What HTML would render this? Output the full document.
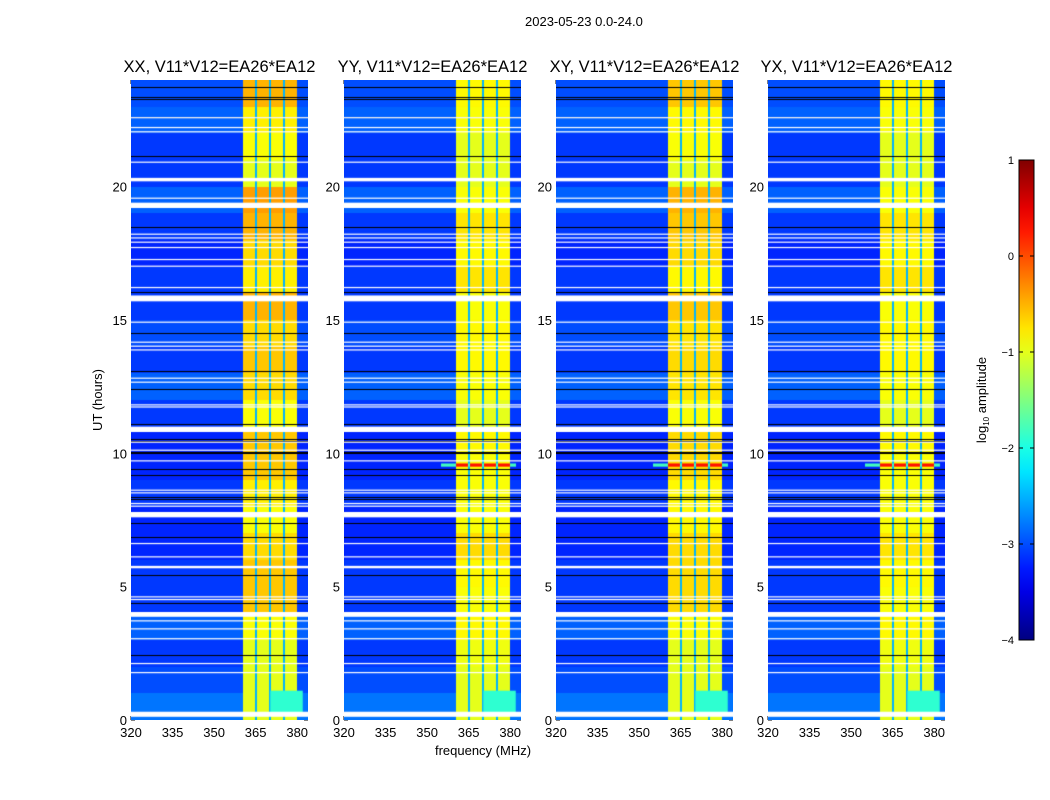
<!DOCTYPE html>
<html><head><meta charset="utf-8">
<style>
body{margin:0;background:#fff;font-family:"Liberation Sans","DejaVu Sans",sans-serif;}
#root{position:relative;width:1050px;height:800px;overflow:hidden;background:#fff;}
.t{position:absolute;white-space:nowrap;color:#000;}
canvas{position:absolute;}
svg{position:absolute;left:0;top:0;}
</style></head>
<body>
<div id="root">
<div class="t" style="left:525px;top:14px;font-size:13px;">2023-05-23 0.0-24.0</div>
<svg id="ov" width="1050" height="800"></svg>
</div>
<script>
// ---- data ----
const panelTitles = ["XX, V11*V12=EA26*EA12","YY, V11*V12=EA26*EA12","XY, V11*V12=EA26*EA12","YX, V11*V12=EA26*EA12"];
const xTicks = [320,335,350,365,380];
const yTicks = [0,5,10,15,20];
const cbTicks = [1,0,-1,-2,-3,-4];
// hourly background log10 amplitude (bins 0..23)
const bgLevel = [-2.8,-3.0,-3.1,-2.9,-3.1,-3.1,-3.2,-3.2,-3.1,-3.2,-3.2,-3.1,-2.9,-3.1,-3.0,-3.1,-3.1,-3.2,-3.1,-2.9,-3.1,-3.1,-2.9,-3.0];
// hourly band (360-380 MHz) level per polarisation
const bandXX = [-1.0,-1.0,-1.0,-0.9,-0.6,-0.6,-0.7,-0.9,-0.8,-0.6,-0.6,-0.9,-0.7,-0.6,-0.7,-0.5,-0.8,-0.7,-0.5,-0.4,-1.0,-0.9,-0.8,-0.5];
const bandYY = [-1.0,-1.0,-0.95,-0.85,-0.9,-0.85,-0.7,-0.9,-0.9,-0.9,-0.85,-1.0,-0.9,-0.85,-0.85,-0.9,-0.75,-0.85,-0.75,-0.9,-1.0,-1.0,-0.9,-0.85];
const bandXY = [-1.0,-1.0,-1.0,-0.9,-0.7,-0.7,-0.7,-0.85,-0.85,-0.7,-0.7,-0.9,-0.75,-0.7,-0.75,-0.6,-0.85,-0.7,-0.6,-0.5,-1.0,-0.9,-0.85,-0.6];
const bandYX = [-1.0,-1.0,-0.95,-0.85,-0.9,-0.85,-0.75,-0.9,-0.9,-0.9,-0.85,-1.0,-0.9,-0.85,-0.85,-0.9,-0.75,-0.85,-0.75,-0.9,-1.0,-1.0,-0.9,-0.85];
// band sub-sections [fStart,fEnd] MHz
const bandSections = [[360.3,364.8],[365.5,369.9],[370.6,374.9],[375.6,379.8]];
// flagged (white) time ranges [start,end] hours
const whiteGaps = [[20.2,20.33],[19.2,19.4],[15.7,15.92],[10.8,11.0],[7.6,7.8],[5.69,5.78],[3.87,4.05],[0.12,0.31],
 [22.57,22.61],[22.2,22.24],[22.04,22.08],[20.9,20.94],[19.55,19.59],[18.2,18.24],[18.06,18.1],[17.9,17.94],[17.7,17.74],
 [17.25,17.29],[17.0,17.04],[16.2,16.24],[14.9,14.94],[14.15,14.19],[14.0,14.04],[13.86,13.9],[12.8,12.84],[12.65,12.69],
 [11.8,11.84],[11.72,11.76],[10.4,10.44],[10.1,10.14],[9.7,9.74],[8.6,8.64],[8.5,8.54],[8.1,8.14],[8.0,8.04],[6.6,6.64],
 [6.1,6.14],[4.6,4.64],[4.5,4.54],[3.7,3.74],[3.4,3.44],[3.03,3.07],[2.1,2.14],[1.76,1.8]];
// dark (zero) rows, hours
const blackLines = [23.75,23.35,23.3,22.6,21.15,18.5,16.05,14.5,13.1,12.4,11.1,10.52,10.45,10.05,10.0,9.4,9.2,8.35,8.28,7.4,6.85,5.45,4.4,2.45];
// red row hours (present in YY, XY, YX)
const redRow = [9.5,9.62];
const redPanels = [false,true,true,true];
// lighter low-freq patch near start [t0,t1,f0,f1,level]
const patch = [0.3,1.1,370.3,382,-1.9];

const bands = [bandXX,bandYY,bandXY,bandYX];
// ---- layout ----
const panelLeft=[131,344,556,768], PW=177, PT=80, PH=640;
const fMin=320, fMax=320+177/2.77, tMax=24;
function fx(f,i){return panelLeft[i]+(f-fMin)/(fMax-fMin)*PW;}
function ty(t){return PT+PH-(t/tMax)*PH;}
function jet(v){let t=(v+4)/5;t=Math.max(0,Math.min(1,t));
 const c=x=>Math.round(255*Math.max(0,Math.min(1,x)));
 return `rgb(${c(1.5-Math.abs(4*t-3))},${c(1.5-Math.abs(4*t-2))},${c(1.5-Math.abs(4*t-1))})`;}
const root=document.getElementById('root');
const ov=document.getElementById('ov');
const NS='http://www.w3.org/2000/svg';
function sv(tag,a){const e=document.createElementNS(NS,tag);for(const k in a)e.setAttribute(k,a[k]);ov.appendChild(e);return e;}
function inBand(f){for(const s of bandSections)if(f>=s[0]&&f<=s[1])return 1;return (f>=bandSections[0][0]&&f<=bandSections[3][1])?2:0;}

for(let i=0;i<4;i++){
 const cv=document.createElement('canvas');
 cv.width=PW;cv.height=PH;cv.style.left=panelLeft[i]+'px';cv.style.top=PT+'px';
 
 
 root.appendChild(cv);
 const g=cv.getContext('2d');
 const L=panelLeft[i];
 for(let h=0;h<24;h++){
  const y0=Math.round(ty(h+1)-PT),y1=Math.round(ty(h)-PT);
  for(let px=0;px<PW;px++){
   const f=fMin+(px+0.5)/PW*(fMax-fMin);
   const b=inBand(f);
   let v=b===1?bands[i][h]:(b===2?-2.5:bgLevel[h]);
   g.fillStyle=jet(v);g.fillRect(px,y0,1,y1-y0);
  }
 }
 {const x0=fx(patch[2],i)-L,x1=fx(patch[3],i)-L,y0=ty(patch[1])-PT,y1=ty(patch[0])-PT;
  g.fillStyle=jet(patch[4]);g.fillRect(x0,y0,x1-x0,y1-y0);}
 if(redPanels[i]){const y0=ty(redRow[1])-PT,y1=ty(redRow[0])-PT;
  for(let px=0;px<PW;px++){const f=fMin+(px+0.5)/PW*(fMax-fMin);const b=inBand(f);
   if(f>=355&&f<=382){g.fillStyle=jet(b===1?0.3:-1.8);g.fillRect(px,y0,1,y1-y0);}}}
 g.fillStyle='#000';
 for(const t of blackLines){g.fillRect(0,Math.round(ty(t)-PT),PW,1);}
 g.fillStyle='#fff';
 for(const w of whiteGaps){const y0=ty(w[1])-PT,y1=ty(w[0])-PT;g.fillRect(0,y0,PW,Math.max(1.2,y1-y0));}
 const fr=sv('rect',{x:L+0.5,y:PT+0.5,width:PW-1,height:PH-1,fill:'none',stroke:'#000','stroke-width':1});
 
 const tt=document.createElement('div');tt.className='t';tt.textContent=panelTitles[i];
 tt.style.left=(L+PW/2)+'px';tt.style.top='58px';tt.style.fontSize='16.5px';tt.style.transform='translateX(-50%)';
 root.appendChild(tt);
 for(const f of xTicks){const x=fx(f,i);
  sv('line',{x1:x,y1:PT+PH,x2:x,y2:PT+PH-4,stroke:'#000'});sv('line',{x1:x,y1:PT,x2:x,y2:PT+4,stroke:'#000'});
  const tx=sv('text',{x:x,y:PT+PH+17,'font-size':13,'text-anchor':'middle','font-family':'Liberation Sans'});tx.textContent=f;
  }
 for(const t of yTicks){const y=ty(t);
  sv('line',{x1:L,y1:y,x2:L+4,y2:y,stroke:'#000'});sv('line',{x1:L+PW,y1:y,x2:L+PW-4,y2:y,stroke:'#000'});
  const tx=sv('text',{x:L-4,y:y+5,'font-size':13,'text-anchor':'end','font-family':'Liberation Sans'});tx.textContent=t;
  }
}
let yl=sv('text',{x:0,y:0,'font-size':13,'text-anchor':'middle','font-family':'Liberation Sans',transform:'translate(102,400) rotate(-90)'});
yl.textContent='UT (hours)';
let xl=sv('text',{x:483,y:755,'font-size':13,'text-anchor':'middle','font-family':'Liberation Sans'});
xl.textContent='frequency (MHz)';
const CBX=1019,CBW=15,CBT=160,CBH=480;
const defs=sv('defs',{});const lg=document.createElementNS(NS,'linearGradient');
lg.setAttribute('id','jetg');lg.setAttribute('x1','0');lg.setAttribute('y1','1');lg.setAttribute('x2','0');lg.setAttribute('y2','0');
for(let k=0;k<=20;k++){const s=document.createElementNS(NS,'stop');s.setAttribute('offset',k/20);s.setAttribute('stop-color',jet(-4+5*k/20));lg.appendChild(s);}
defs.appendChild(lg);
const cb=sv('rect',{x:CBX,y:CBT,width:CBW,height:CBH,fill:'url(#jetg)',stroke:'#000','stroke-width':1});

for(const v of cbTicks){const y=CBT+(1-v)/5*CBH;
 sv('line',{x1:CBX,y1:y,x2:CBX+4,y2:y,stroke:'#000'});sv('line',{x1:CBX+CBW,y1:y,x2:CBX+CBW-4,y2:y,stroke:'#000'});
 const tx=sv('text',{x:CBX-5,y:y+4,'font-size':11,'text-anchor':'end','font-family':'Liberation Sans'});
 tx.textContent=v<0?'\u2212'+(-v):String(v);
 }
let cl=sv('text',{x:0,y:0,'font-size':13,'text-anchor':'middle','font-family':'Liberation Sans',transform:'translate(986,400) rotate(-90)'});
cl.innerHTML='log<tspan font-size="8" dy="3">10</tspan><tspan dy="-3"> amplitude</tspan>';

</script>
</body></html>
